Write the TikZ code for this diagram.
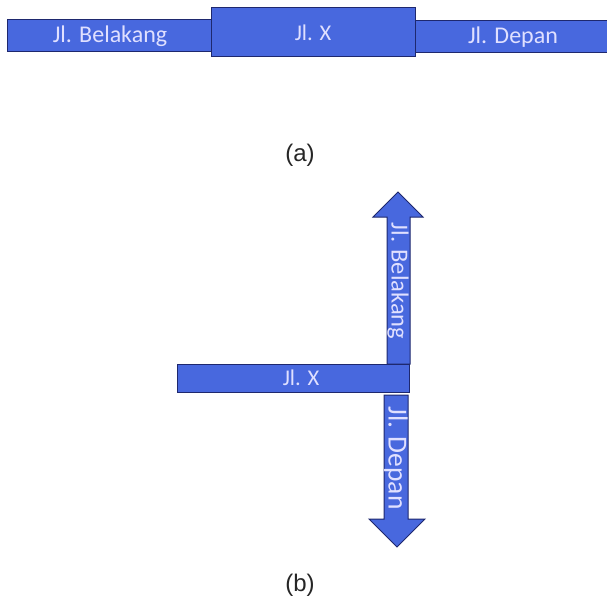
\documentclass[tikz,border=0pt]{standalone}
\usepackage{fontspec}
\setmainfont{Carlito}
\newfontfamily\lab{Liberation Sans}
\definecolor{roadfill}{RGB}{72,104,222}
\definecolor{roadline}{RGB}{30,40,110}
\begin{document}
\begin{tikzpicture}[x=1pt,y=-1pt,
  road/.style={fill=roadfill,draw=roadline,line width=1pt},
  rtext/.style={text=white!88!blue,inner sep=0pt},
  sublabel/.style={font=\lab\fontsize{24}{26}\selectfont,text=black!85}]
\useasboundingbox (0,0) rectangle (607,602);
% (a)
\draw[road] (7,20) rectangle (212,52);
\draw[road] (414,21) rectangle (610,53);
\draw[road] (211,8) rectangle (415,57);
\node[rtext,font=\fontsize{24}{26}\selectfont] (abel) at (110,36) {Jl. Belakang};
\node[rtext,font=\fontsize{22.5}{24}\selectfont] (ax) at (313,33) {Jl. X};
\node[rtext,font=\fontsize{24}{26}\selectfont] (adep) at (513,37) {Jl. Depan};
\node[sublabel] (la) at (300,155) {(a)};
% (b)
\draw[road] (387,364) -- (387,217) -- (373,217) -- (398,192) -- (423,217) -- (410,217) -- (410,364) -- cycle;
\draw[road] (384,395) -- (408,395) -- (408,519) -- (425,519) -- (397,547) -- (369,519) -- (384,519) -- cycle;
\draw[road] (177,364) rectangle (409,392);
\node[rtext,font=\fontsize{24.5}{26}\selectfont,rotate=-90] (bbel) at (398,281) {Jl. Belakang};
\node[rtext,font=\fontsize{27.5}{29}\selectfont,rotate=-90] (bdep) at (396,458) {Jl. Depan};
\node[rtext,font=\fontsize{22.5}{24}\selectfont] (bx) at (301,378) {Jl. X};
\node[sublabel] (lb) at (300,585) {(b)};
\end{tikzpicture}
\end{document}
